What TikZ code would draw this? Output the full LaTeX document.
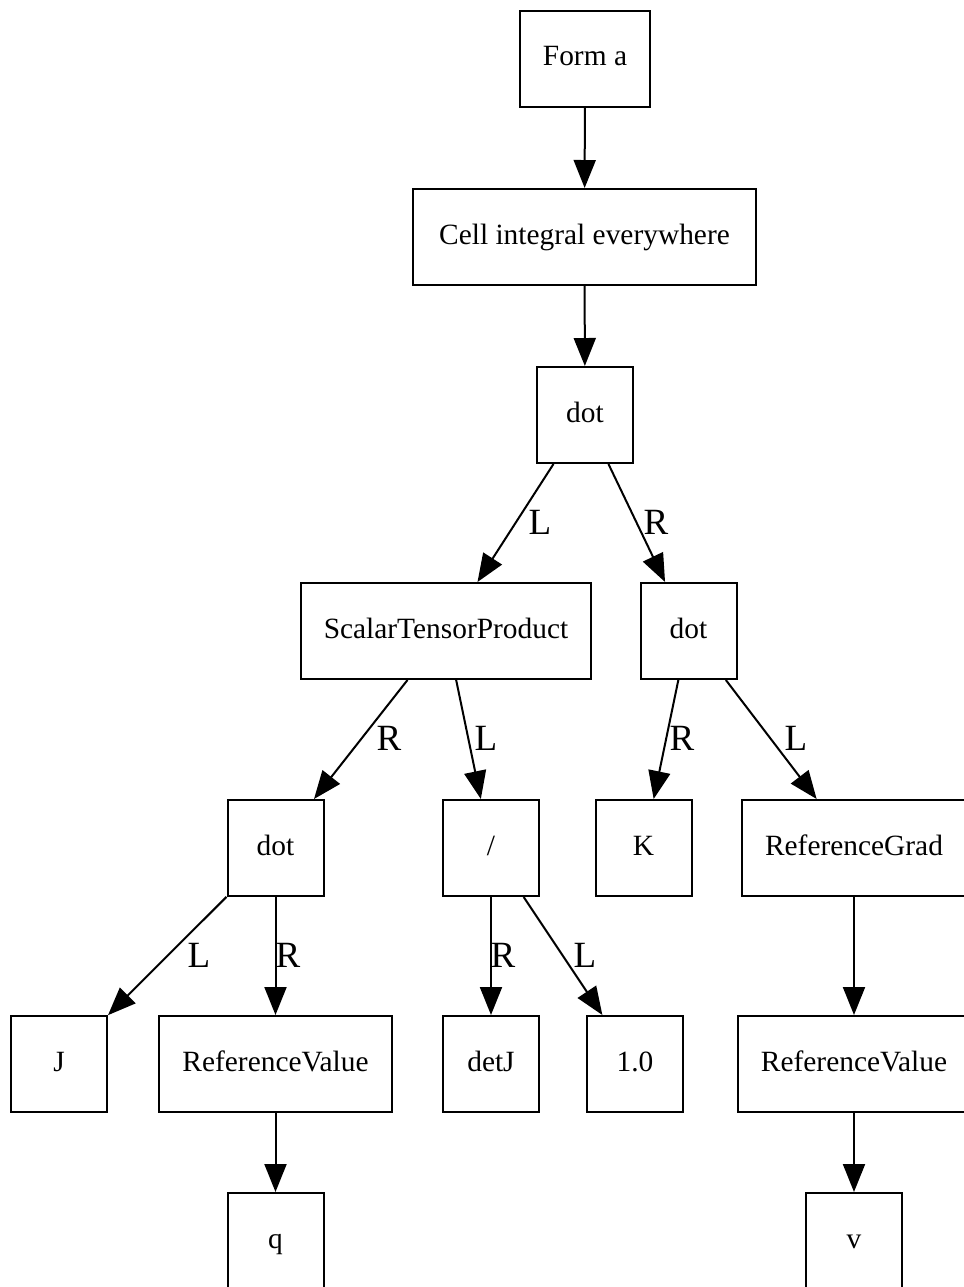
\documentclass[tikz,border=0pt]{standalone}
\usepackage{fontspec}
\setmainfont{Liberation Serif}
\usetikzlibrary{arrows.meta}
\tikzset{
    box/.style={draw,line width=1pt,minimum width=48pt,minimum height=48pt,inner xsep=11.5pt,
        text height=0.8em,text depth=0.1em,font=\fontsize{14.7}{17}\selectfont},
    edge/.style={line width=1pt,-{Triangle[length=14pt,width=11pt]}},
    elab/.style={inner sep=0pt,font=\fontsize{18.5}{22}\selectfont}
}

\begin{document}
\begin{tikzpicture}[x=0.5pt,y=-0.5pt]
            \useasboundingbox (0,0) rectangle (964,1287);
            % the tree, one row at a time
            \node [box] (forma) at (585,58.5) {Form a};
            \node [box,minimum width=171.5pt] (cell) at (584.5,237) {Cell integral everywhere};
            \node [box] (dota) at (585,415) {dot};
            \node [box] (stp) at (446,631) {ScalarTensorProduct};
            \node [box] (dotb) at (688.5,631) {dot};
            \node [box] (dotc) at (275.5,848) {dot};
            \node [box] (slash) at (491,848) {/};
            \node [box] (kk) at (643.5,848) {K};
            \node [box] (rgrad) at (854,848) {ReferenceGrad};
            \node [box] (jj) at (59,1064) {J};
            \node [box] (rvalq) at (275.5,1064) {ReferenceValue};
            \node [box] (detj) at (491,1064) {detJ};
            \node [box] (one) at (635,1064) {1.0};
            \node [box] (rvalv) at (854,1064) {ReferenceValue};
            \node [box] (qq) at (275.5,1241) {q};
            \node [box] (vv) at (854,1241) {v};
            % connectors
            \draw [edge] (forma) -- (cell);
            \draw [edge] (cell) -- (dota);
            \draw [edge] (dota) -- (stp) node [elab] at (540,522) {L};
            \draw [edge] (dota) -- (dotb) node [elab] at (656,522) {R};
            \draw [edge] (stp) -- (dotc) node [elab] at (389,738) {R};
            \draw [edge] (stp) -- (slash) node [elab] at (486,738) {L};
            \draw [edge] (dotb) -- (kk) node [elab] at (682,738) {R};
            \draw [edge] (dotb) -- (rgrad) node [elab] at (796,738) {L};
            \draw [edge] (dotc) -- (jj) node [elab] at (199,955) {L};
            \draw [edge] (dotc) -- (rvalq) node [elab] at (288,955) {R};
            \draw [edge] (slash) -- (detj) node [elab] at (503,955) {R};
            \draw [edge] (slash) -- (one) node [elab] at (585,955) {L};
            \draw [edge] (rgrad) -- (rvalv);
            \draw [edge] (rvalq) -- (qq);
            \draw [edge] (rvalv) -- (vv);
        \end{tikzpicture}
\end{document}
